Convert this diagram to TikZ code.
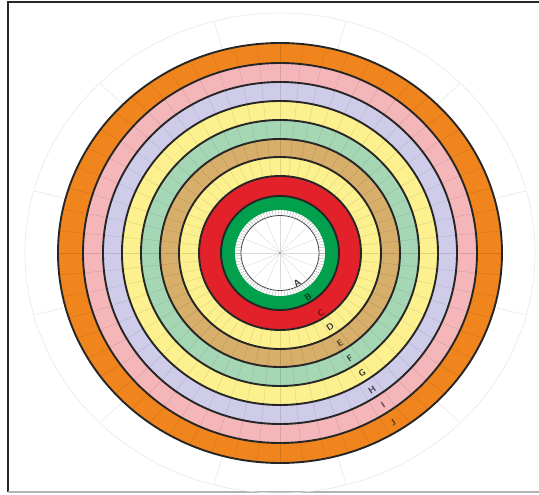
\documentclass[tikz,border=0pt]{standalone}
\usepackage{tikz}
\definecolor{RingJ}{HTML}{F0851E}
\definecolor{RingI}{HTML}{F4B6B8}
\definecolor{RingH}{HTML}{CFCCEA}
\definecolor{RingG}{HTML}{FDF08E}
\definecolor{RingF}{HTML}{A5D7B5}
\definecolor{RingE}{HTML}{D7AE6A}
\definecolor{RingD}{HTML}{FDF08E}
\definecolor{RingC}{HTML}{E2212A}
\definecolor{RingB}{HTML}{00A04C}
\definecolor{GridGray}{HTML}{E8E8E8}

\begin{document}
\begin{tikzpicture}[x=1pt,y=1pt]
  \tikzstyle{ringline}=[draw=black!85,line width=1.9pt]
  \tikzstyle{cell}=[draw=black,line width=0.4pt,opacity=0.12]
  \tikzstyle{grid}=[draw=GridGray,line width=0.6pt]
  \tikzstyle{tag}=[font=\sffamily\bfseries\fontsize{9}{10}\selectfont,
    inner sep=0pt,rotate=34]
  \useasboundingbox (-280,-242) rectangle (259,253);
  % frame
  \draw[line width=2.5pt,black!85] (-272,-239) -- (-272,251) -- (259,251);
  \draw[line width=1.5pt,black!30] (-272,-239) -- (259,-239);
  % faint outer grid
  \draw[grid] (0,0) ellipse[x radius=255,y radius=240];
  \foreach \a in {15,45,...,345}
    \draw[grid] ({222*cos(\a)},{210*sin(\a)}) -- ({255*cos(\a)},{240*sin(\a)});
  % ring fills, outside in
  \foreach \rx/\ry/\col in {222/210/RingJ,197/190/RingI,177/171/RingH,
      158/152/RingG,139/133/RingF,120/114/RingE,101/96/RingD,81/77/RingC,59/57/RingB}
    \fill[\col] (0,0) ellipse[x radius=\rx,y radius=\ry];
  \fill[white] (0,0) ellipse[x radius=45,y radius=43];
  % cells
  \foreach \ix/\iy/\ox/\oy in {81/77/101/96,101/96/120/114,120/114/139/133,
      139/133/158/152,158/152/177/171,177/171/197/190,197/190/222/210}
    \foreach \a in {0,6,...,354}
      \draw[cell] ({\ix*cos(\a)},{\iy*sin(\a)}) -- ({\ox*cos(\a)},{\oy*sin(\a)});
  % ticked band and hub
  \foreach \a in {0,4,...,356}
    \draw[black!35,line width=0.3pt] ({39*cos(\a)},{37.5*sin(\a)}) -- ({45*cos(\a)},{43*sin(\a)});
  \foreach \a in {0,22.5,...,337.5}
    \draw[black!15,line width=0.4pt] (0,0) -- ({38*cos(\a)},{36.5*sin(\a)});
  \fill[black!50] (0,0) circle (0.8);
  \draw[black!70,line width=0.8pt] (0,0) ellipse[x radius=39,y radius=37.5];
  % black borders
  \foreach \rx/\ry in {59/57,81/77,101/96,120/114,139/133,158/152,177/171,197/190,222/210}
    \draw[ringline] (0,0) ellipse[x radius=\rx,y radius=\ry];
  % letters
  \foreach \t/\x/\y/\c in {A/17/-30/black!80,B/28/-44/RingB!35!black,
      C/41/-60/RingC!45!black,D/50/-74/black!80,E/60/-90/RingE!40!black,
      F/70/-105/RingF!30!black,G/82/-120/black!80,H/92/-137/RingH!30!black,
      I/103/-152/RingI!35!black,J/113/-170/RingJ!40!black}
    \node[tag,text=\c] (lab\t) at (\x,\y) {\t};
\end{tikzpicture}
\end{document}
